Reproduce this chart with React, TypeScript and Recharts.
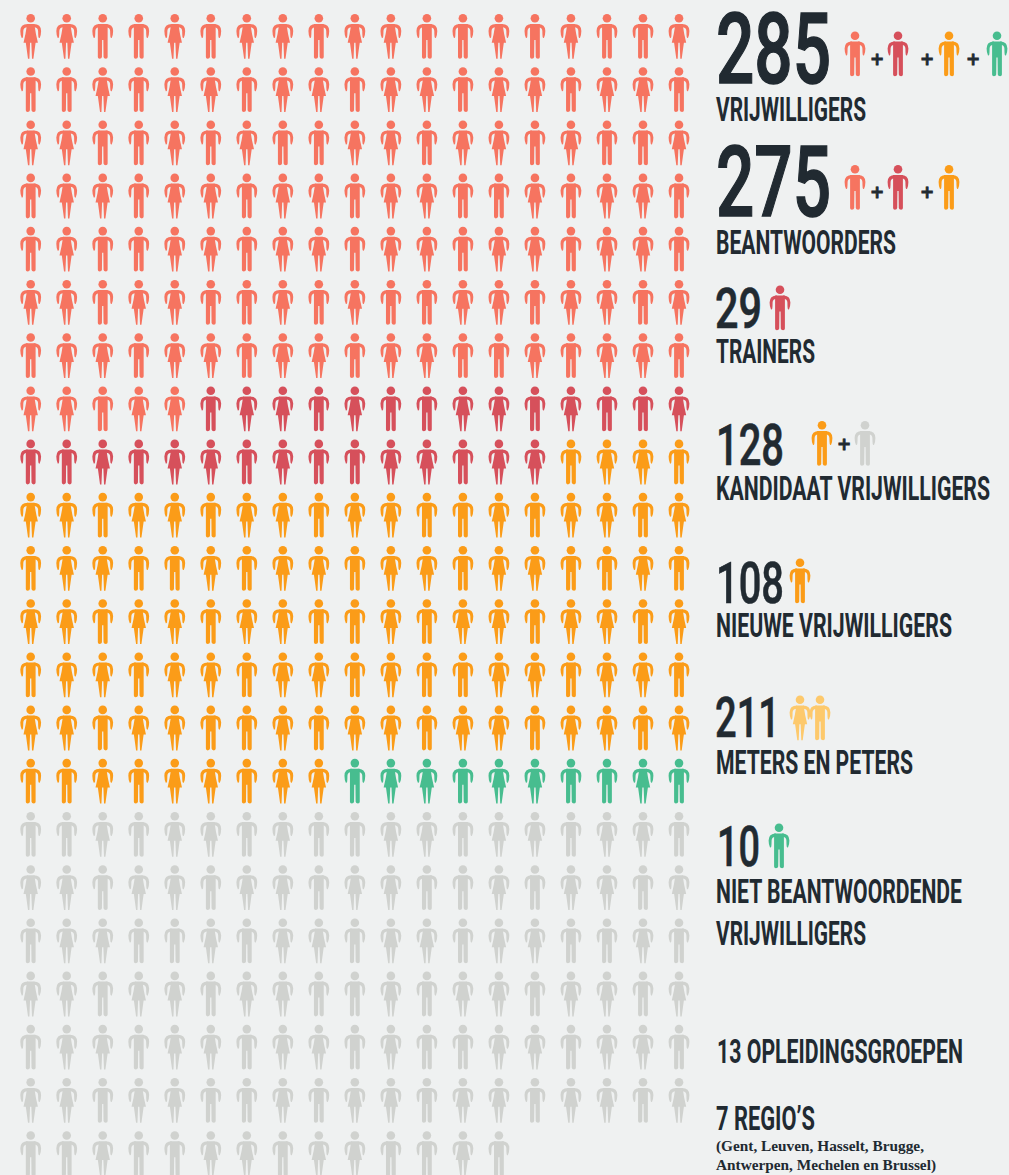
import { ScatterChart, Scatter, XAxis, YAxis } from "recharts";

const BG = "#eff1f1";
const INK = "#212a31";

// groups, in the order they fill the grid
const groupNames = ["vrijwilligers", "trainers", "nieuwe", "niet beantwoord", "kandidaat"];
const groupCounts = [138, 29, 108, 10, 128];
const groupColors = ["#f67460", "#d6505b", "#fb9c18", "#47bd8f", "#d0d2cf"];

// M = man, F = woman, read per row from the picture
const genderRows = [
  "FFMMFMFFMFFMMFMFMMF",
  "MMFMFFMFFMFFMFFMFFM",
  "FFMMFMFMMFFMFFMFMMF",
  "MFFMFFMFFMFFMMFMFFM",
  "MFMMFFMFFMFFMFFMFFM",
  "FFMFFMMFMFMMFFMFFMF",
  "MFFMFFMFFMFFMMFMFFM",
  "FFMFFMFFMFMMFFMFMMF",
  "MMFMFFMFMMFFMFFMFFM",
  "FFMFFMFFMFFMMFMFFMF",
  "MFFMMFMFFMFFMFFMMFM",
  "FFMFFMFFMMFMFFMFFMF",
  "MFFMFFMFFMFMMFFMFFM",
  "FFMFFMMFMFFMFFMFFMF",
  "MMFMFFMFFMFFMFFMMFM",
  "MMFMFFMFMMFFMFFMFFM",
  "FFMFFMFFMFFMMFMFFMF",
  "MFFMMFMFFMFFMFFMMFM",
  "FFMFFMFFMMFMFFMFFMF",
  "MFFMFFMFFMFMMFFMFFM",
  "FFMFFMMFMFFMFFMFFMF",
  "MMFMMFFMFFMMFM",
];

const COLS = genderRows[0].length;

type Pt = { col: number; row: number; gender: string };

const cells: Pt[] = genderRows.flatMap((r, row) =>
  r.split("").map((gender, col) => ({ col, row, gender }))
);

const groupData: Pt[][] = [];
let start = 0;
groupCounts.forEach((n) => {
  groupData.push(cells.slice(start, start + n));
  start += n;
});

const ARMS =
  "M-3,10 Q-10.4,10 -10.4,17 Q-10.4,21 -9,24 Q-8,24.3 -7.7,23 Q-7.4,20 -7.4,17 Q-7.4,13.2 -3,13.2 Z " +
  "M3,10 Q10.4,10 10.4,17 Q10.4,21 9,24 Q8,24.3 7.7,23 Q7.4,20 7.4,17 Q7.4,13.2 3,13.2 Z";

const Person = ({ x, y, gender, color }: { x: number; y: number; gender: string; color: string }) => (
  <g transform={`translate(${x},${y - 22.5})`} fill={color}>
    <circle cx={0} cy={4.3} r={4.3} />
    <path d={ARMS} />
    {gender === "M" ? (
      <path d="M-4.9,10 H4.9 V43 Q4.9,44.8 3.1,44.8 Q1,44.8 .8,43 L.6,26 H-.6 L-.8,43 Q-1,44.8 -3.1,44.8 Q-4.9,44.8 -4.9,43 Z" />
    ) : (
      <>
        <path d="M-3.6,10 H3.6 Q5,20 7.2,28.8 H-7.2 Q-5,20 -3.6,10 Z" />
        <path d="M-5,28 H-.6 L-1.3,44.8 H-2.7 Z M5,28 H.6 L1.3,44.8 H2.7 Z" />
      </>
    )}
  </g>
);

const PersonShape = (color: string) => (props: any) => (
  <Person x={props.cx} y={props.cy} gender={props.payload.gender} color={color} />
);

// right column: [text, x, baseline, width, font size, stroke]
const bigNumbers: [string, number, number, number, number, number][] = [
  ["285", 716, 83, 115, 98, 1.4],
  ["275", 716, 216, 115, 98, 1.4],
  ["29", 715, 328, 47, 55, 0.6],
  ["128", 716, 465, 68, 57, 0.6],
  ["108", 716, 603, 68, 58, 0.6],
  ["211", 715, 737, 65, 55, 0.6],
  ["10", 717, 866, 43, 55, 0.6],
];

const labels: [string, number, number, number][] = [
  ["VRIJWILLIGERS", 716, 121, 150],
  ["BEANTWOORDERS", 716, 254, 180],
  ["TRAINERS", 716, 363, 99],
  ["KANDIDAAT VRIJWILLIGERS", 716, 500, 274],
  ["NIEUWE VRIJWILLIGERS", 716, 637, 236],
  ["METERS EN PETERS", 716, 774, 197],
  ["NIET BEANTWOORDENDE", 716, 903, 246],
  ["VRIJWILLIGERS", 716, 945, 150],
  ["13 OPLEIDINGSGROEPEN", 717, 1063, 246],
  ["7 REGIO\u2019S", 716, 1130, 99],
];

const regionLines: [string, number, number][] = [
  ["(Gent, Leuven, Hasselt, Brugge,", 1151, 208],
  ["Antwerpen, Mechelen en Brussel)", 1170, 220],
];

// legend icons: [group colour, gender, x, centre y]
const keyIcons: [string, string, number, number][] = [
  ["#f67460", "M", 855, 54],
  ["#d6505b", "M", 898, 54],
  ["#fb9c18", "M", 949, 54],
  ["#47bd8f", "M", 997, 54],
  ["#f67460", "M", 855, 187.5],
  ["#d6505b", "M", 898, 187.5],
  ["#fb9c18", "M", 949, 187.5],
  ["#d6505b", "M", 780, 308],
  ["#fb9c18", "M", 822, 443.5],
  ["#d0d2cf", "M", 865, 443.5],
  ["#fb9c18", "M", 800, 581],
  ["#fdc96c", "F", 800, 718],
  ["#fdc96c", "M", 820, 718],
  ["#47bd8f", "M", 779, 846],
];

const plusSigns: [number, number][] = [
  [877, 59], [927, 59], [973, 59],
  [877, 192], [927, 192],
  [844, 444],
];

const DISPLAY = '"Roboto", sans-serif';

export default function App() {
  return (
    <div style={{ position: "absolute", left: 0, top: 0, width: 1009, height: 1175, background: BG, overflow: "hidden" }}>
      <ScatterChart width={1009} height={1175} margin={{ top: 36.5, right: 330, bottom: 21.3, left: 30.7 }}>
        <XAxis type="number" dataKey="col" domain={[0, COLS - 1]} hide />
        <YAxis type="number" dataKey="row" domain={[0, genderRows.length - 1]} reversed hide />
        {groupData.map((d, i) => (
          <Scatter key={groupNames[i]} name={groupNames[i]} data={d} shape={PersonShape(groupColors[i])} isAnimationActive={false} />
        ))}
      </ScatterChart>

      <svg width={1009} height={1175} style={{ position: "absolute", left: 0, top: 0 }}>
        {bigNumbers.map(([t, x, y, w, fs, sw]) => (
          <text key={t} x={x} y={y} textLength={w} lengthAdjust="spacingAndGlyphs" fontSize={fs} fontWeight={500} fontFamily={DISPLAY} fill={INK} stroke={INK} strokeWidth={sw}>
            {t}
          </text>
        ))}
        {labels.map(([t, x, y, w]) => (
          <text key={t + y} x={x} y={y} textLength={w} lengthAdjust="spacingAndGlyphs" fontSize={33} fontWeight={700} fontFamily={DISPLAY} fill={INK}>
            {t}
          </text>
        ))}
        {regionLines.map(([t, y, w]) => (
          <text key={t} x={716} y={y} textLength={w} lengthAdjust="spacingAndGlyphs" fontSize={15} fontWeight={700} fontFamily='"Liberation Serif", serif' fill={INK}>
            {t}
          </text>
        ))}
        {keyIcons.map(([c, g, x, y], i) => (
          <Person key={i} x={x} y={y} gender={g} color={c} />
        ))}
        {plusSigns.map(([x, y], i) => (
          <text key={i} x={x} y={y + 6} textAnchor="middle" fontSize={17} fontWeight={700} fontFamily='"DejaVu Sans", sans-serif' fill={INK} stroke={INK} strokeWidth={0.8}>
            +
          </text>
        ))}
      </svg>
    </div>
  );
}
